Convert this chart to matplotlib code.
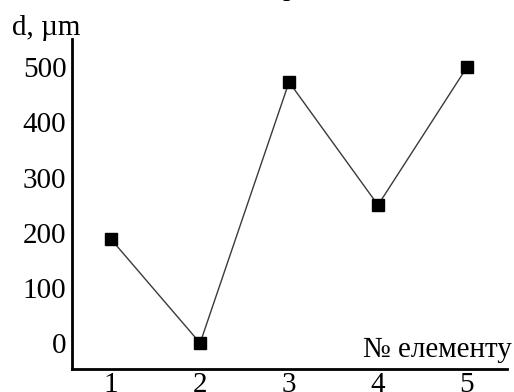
import matplotlib.pyplot as plt

plt.rcParams['font.family'] = ['Liberation Serif', 'DejaVu Serif']

W, H = 514, 392

element = [1, 2, 3, 4, 5]
diameter = [188, 0, 473, 250, 500]
y_ticks = [0, 100, 200, 300, 400, 500]

fig = plt.figure(figsize=(W / 100, H / 100), dpi=100)
ax = fig.add_axes([72 / W, (H - 369) / H, (507 - 72) / W, (369 - 39) / H])

ax.plot(element, diameter, color='#3a3a3a', linewidth=1.0,
        marker='s', markersize=8, markerfacecolor='black', markeredgecolor='black')

ax.set_xlim(0.56, 5.45)
ax.set_ylim(-47, 551)
ax.set_xticks(element)
ax.set_yticks(y_ticks)

for side in ['top', 'right']:
    ax.spines[side].set_visible(False)
for side in ['left', 'bottom']:
    ax.spines[side].set_linewidth(2)
    ax.spines[side].set_color('black')

ax.tick_params(axis='both', length=0, labelsize=21)
ax.tick_params(axis='y', pad=4)
ax.tick_params(axis='x', pad=2)

fig.text(12 / W, 1 - 35 / H, 'd, µm', fontsize=21, va='baseline', ha='left')
fig.text(512 / W, 1 - 357 / H, '№ елементу', fontsize=21, va='baseline', ha='right')
# tail of a caption letter cut off by the top edge
fig.text(283 / W, 1 + 5 / H, 'р', fontsize=21, va='baseline', ha='left')

fig.savefig('out.png', dpi=100)
